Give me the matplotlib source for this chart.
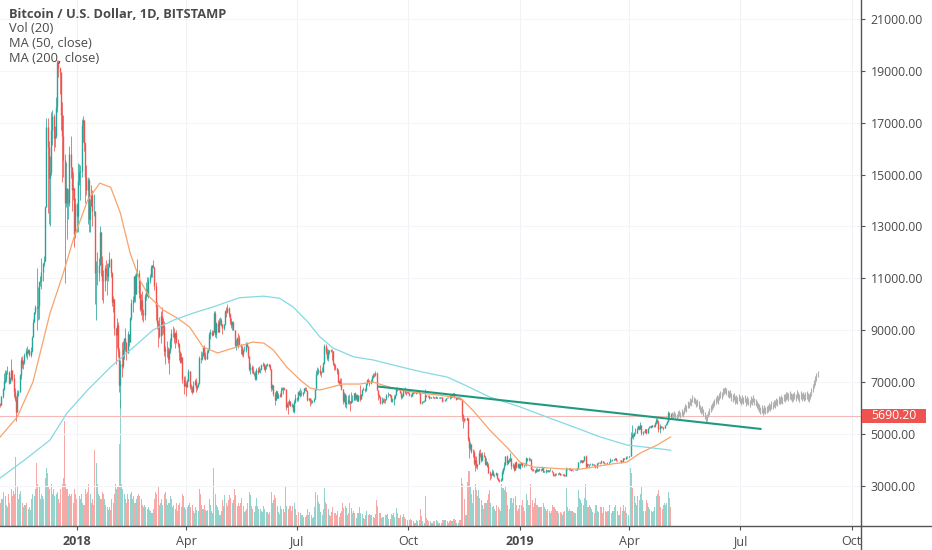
import numpy as np
import pandas as pd
import matplotlib
matplotlib.use('Agg')
import matplotlib.pyplot as plt
import matplotlib.dates as mdates
import matplotlib.transforms as mtrans
from matplotlib.lines import Line2D
from matplotlib.patches import Rectangle

plt.rcParams['font.family'] = ['Open Sans', 'DejaVu Sans']

# ---- daily BTC/USD (Bitstamp), 2017-10-30 .. 2019-05-05 ----
first_open = 6150
close_px = [
    6130, 6450,
    6740, 7030, 7160, 7380, 7390, 6960, 7100, 7450, 7140, 6600, 6330, 5860, 6530, 6600, 7280, 7840, 7700, 7780, 8040, 8200, 8100, 8230, 8030, 8200, 8750, 9300, 9700, 9900, 9840, 9940,
    10860, 10900, 11230, 11580, 11660, 13750, 16850, 16050, 14850, 15100, 16700, 17250, 16400, 16500, 17600, 19350, 19100, 18950, 17300, 16500, 15560, 13900, 14500, 13900, 13900, 15800, 15300, 14400, 14500, 12700, 13880,
    13400, 14750, 15100, 15150, 16900, 17100, 16200, 14900, 14400, 14800, 13300, 13800, 14200, 13600, 13600, 11200, 11200, 11200, 11500, 12800, 11600, 10900, 10900, 11400, 11200, 11100, 11450, 11750, 11200, 10100, 10200,
    9100, 8830, 9200, 8200, 6900, 7700, 7600, 8260, 8680, 8550, 8100, 8870, 8530, 9460, 10030, 10170, 11090, 10400, 11150, 11220, 10450, 9830, 10160, 9680, 9590, 10310, 10570, 10330,
    10920, 11030, 11440, 11500, 11450, 10700, 9900, 9290, 9200, 8770, 9530, 9130, 9150, 8200, 8260, 8270, 7870, 8200, 8600, 8900, 8900, 8710, 8900, 8540, 8450, 8140, 7790, 7950, 7100, 6850, 6930,
    6820, 7050, 7420, 6800, 6780, 6620, 6900, 7020, 6770, 6840, 6950, 7920, 7890, 8010, 8360, 8050, 7890, 8170, 8280, 8860, 8920, 8800, 8940, 9650, 8870, 9280, 8940, 9340, 9400, 9240,
    9070, 9220, 9740, 9700, 9850, 9630, 9370, 9190, 9310, 9010, 8420, 8470, 8700, 8680, 8480, 8350, 8070, 8240, 8240, 8520, 8390, 7990, 7500, 7580, 7470, 7340, 7360, 7110, 7460, 7400, 7490,
    7520, 7640, 7710, 7490, 7620, 7650, 7680, 7620, 7500, 6770, 6880, 6550, 6310, 6640, 6400, 6490, 6450, 6710, 6740, 6760, 6720, 6050, 6160, 6150, 6250, 6080, 6130, 5880, 6210, 6390,
    6350, 6620, 6500, 6590, 6530, 6600, 6760, 6710, 6660, 6310, 6380, 6240, 6220, 6250, 6350, 6730, 7320, 7380, 7470, 7330, 7400, 7400, 7720, 8400, 8170, 7930, 8180, 8220, 8210, 8180, 7730,
    7600, 7540, 7410, 7010, 7030, 6940, 6720, 6280, 6540, 6150, 6240, 6320, 6260, 6190, 6270, 6310, 6580, 6390, 6490, 6270, 6480, 6360, 6520, 6700, 6720, 6710, 6910, 7080, 7030, 6980, 7030,
    7190, 7270, 7260, 7360, 6700, 6500, 6410, 6190, 6240, 6320, 6290, 6330, 6490, 6490, 6520, 6500, 6250, 6350, 6390, 6490, 6760, 6710, 6700, 6590, 6430, 6450, 6680, 6630, 6610, 6620,
    6590, 6510, 6470, 6560, 6620, 6580, 6600, 6660, 6640, 6560, 6180, 6240, 6250, 6260, 6480, 6470, 6460, 6390, 6390, 6410, 6420, 6400, 6390, 6420, 6390, 6400, 6410, 6410, 6270, 6280, 6320,
    6380, 6400, 6380, 6480, 6440, 6480, 6560, 6420, 6340, 6390, 6390, 6380, 6330, 5720, 5600, 5550, 5550, 5610, 4820, 4450, 4600, 4300, 4300, 3880, 4000, 3760, 3830, 4270, 4250, 3990,
    4190, 4130, 3850, 3930, 3750, 3500, 3400, 3410, 3540, 3400, 3420, 3480, 3290, 3230, 3200, 3230, 3520, 3670, 3800, 4130, 3870, 4000, 3960, 4050, 3760, 3800, 3600, 3900, 3720, 3850, 3690,
    3830, 3890, 3780, 3810, 3790, 4060, 4000, 4010, 4030, 3650, 3640, 3610, 3510, 3660, 3580, 3610, 3650, 3600, 3710, 3530, 3550, 3590, 3560, 3590, 3580, 3580, 3540, 3430, 3400, 3460, 3440,
    3470, 3500, 3420, 3430, 3450, 3390, 3370, 3650, 3660, 3690, 3620, 3630, 3610, 3590, 3600, 3620, 3680, 3900, 3930, 3980, 3920, 3980, 4130, 3730, 3820, 3800, 3810, 3810,
    3830, 3830, 3800, 3710, 3860, 3870, 3880, 3860, 3940, 3920, 3860, 3880, 3860, 3870, 3910, 4010, 3980, 3980, 4020, 4050, 3980, 3990, 4000, 3990, 3920, 3940, 4060, 4040, 4110, 4110, 4110,
    4150, 4890, 4960, 4910, 5040, 5050, 5200, 5290, 5200, 5330, 5050, 5080, 5080, 5170, 5050, 5230, 5250, 5290, 5280, 5330, 5300, 5400, 5540, 5440, 5170, 5290, 5280, 5270, 5230, 5340,
    5390, 5480, 5790, 5780, 5690.2,
]
high_px = [
    6200, 6470,
    6760, 7330, 7450, 7480, 7600, 7420, 7200, 7880, 7450, 7300, 6780, 6450, 6700, 6680, 7320, 7950, 8020, 7850, 8100, 8300, 8370, 8290, 8280, 8340, 8780, 9430, 9700, 9980, 11400, 10650,
    10900, 11100, 11800, 11600, 11850, 13800, 17170, 17200, 16300, 15700, 17400, 17500, 17350, 16880, 17990, 19400, 19400, 19150, 18950, 17800, 17300, 15800, 15500, 14500, 14450, 16100, 16500, 15300, 15100, 14500, 14100,
    13900, 15450, 15400, 15350, 17150, 17250, 17100, 16250, 15350, 14900, 14850, 14050, 14600, 14400, 14250, 13600, 11650, 12000, 11800, 13000, 12800, 11850, 11300, 11500, 11700, 11600, 11600, 12000, 11800, 11250, 10300,
    10200, 9100, 9450, 9300, 8300, 7850, 8550, 8600, 8700, 9100, 8550, 8950, 8870, 9500, 10200, 10300, 11100, 11150, 11250, 11750, 11300, 10900, 10400, 10500, 9800, 10400, 10850, 11050,
    11050, 11170, 11500, 11520, 11700, 11450, 10850, 10100, 9400, 9500, 9730, 9900, 9450, 9350, 8400, 8600, 8340, 8300, 8700, 9050, 9150, 9100, 8920, 9000, 8650, 8500, 8200, 8100, 7950, 7250, 7220,
    7050, 7120, 7500, 7420, 6920, 6850, 7050, 7100, 7170, 6900, 6970, 8000, 8200, 8170, 8400, 8420, 8170, 8220, 8300, 8930, 9030, 9000, 9000, 9730, 9750, 9300, 9380, 9450, 9520, 9450,
    9250, 9250, 9780, 9880, 9990, 9900, 9650, 9450, 9360, 9370, 9020, 8640, 8750, 8890, 8830, 8480, 8370, 8270, 8390, 8560, 8550, 8400, 8000, 7720, 7650, 7600, 7380, 7440, 7530, 7560, 7620,
    7550, 7690, 7760, 7750, 7660, 7690, 7750, 7710, 7690, 7500, 6920, 6890, 6620, 6700, 6650, 6560, 6590, 6790, 6820, 6800, 6790, 6720, 6240, 6250, 6340, 6280, 6180, 6170, 6290, 6520,
    6420, 6640, 6680, 6780, 6700, 6630, 6780, 6810, 6800, 6690, 6400, 6390, 6330, 6320, 6380, 6740, 7460, 7580, 7550, 7660, 7430, 7560, 7760, 8480, 8480, 8300, 8260, 8240, 8290, 8270, 8180,
    7750, 7700, 7540, 7490, 7080, 7150, 7150, 6730, 6630, 6560, 6480, 6480, 6540, 6260, 6620, 6480, 6580, 6600, 6540, 6520, 6500, 6880, 6550, 6720, 6800, 6760, 6950, 7130, 7140, 7060, 7100,
    7260, 7340, 7340, 7420, 7390, 6710, 6530, 6470, 6410, 6380, 6400, 6350, 6540, 6600, 6550, 6530, 6510, 6390, 6500, 6530, 6820, 6820, 6780, 6720, 6600, 6530, 6720, 6800, 6640, 6640,
    6650, 6600, 6520, 6600, 6630, 6620, 6620, 6700, 6670, 6640, 6560, 6280, 6280, 6320, 6740, 6500, 6480, 6480, 6420, 6420, 6460, 6430, 6410, 6460, 6420, 6420, 6430, 6420, 6410, 6300, 6340,
    6400, 6420, 6410, 6500, 6490, 6490, 6590, 6560, 6420, 6410, 6420, 6420, 6390, 6350, 5750, 5600, 5560, 5640, 5620, 4870, 4700, 4620, 4400, 4360, 4150, 4160, 3850, 4380, 4430, 4280,
    4300, 4300, 4140, 4070, 3940, 3880, 3560, 3500, 3640, 3590, 3450, 3510, 3480, 3300, 3260, 3280, 3620, 3680, 3910, 4160, 4200, 4010, 4050, 4250, 4050, 3870, 3820, 3920, 3950, 3870, 3860,
    3860, 3920, 3890, 3830, 3860, 4090, 4070, 4110, 4060, 4030, 3690, 3640, 3620, 3700, 3680, 3660, 3670, 3660, 3770, 3710, 3580, 3630, 3610, 3600, 3600, 3670, 3590, 3540, 3440, 3480, 3480,
    3490, 3520, 3500, 3440, 3460, 3460, 3410, 3730, 3680, 3700, 3690, 3660, 3660, 3620, 3650, 3660, 3700, 3930, 4000, 3990, 4000, 3990, 4150, 4200, 3860, 3830, 3830, 3880,
    3860, 3840, 3840, 3810, 3880, 3900, 3900, 3920, 3980, 3940, 3930, 3890, 3890, 3900, 3930, 4050, 4010, 4030, 4030, 4060, 4070, 4000, 4010, 4010, 3990, 3950, 4070, 4060, 4130, 4140, 4120,
    4160, 5080, 5350, 5040, 5070, 5220, 5250, 5340, 5290, 5470, 5340, 5110, 5120, 5180, 5190, 5240, 5290, 5320, 5350, 5350, 5340, 5440, 5630, 5630, 5530, 5380, 5310, 5300, 5280, 5350,
    5410, 5500, 5900, 5840, 5800,
]
low_px = [
    6030, 6100,
    6380, 6700, 6950, 7000, 7300, 6930, 6950, 7080, 7050, 6430, 6250, 5500, 5840, 6450, 6600, 7120, 7540, 7500, 7680, 7960, 7870, 8100, 8000, 7980, 8160, 8730, 9300, 9640, 9000, 9400,
    9420, 10700, 10600, 10900, 11480, 11650, 13750, 13500, 13100, 13020, 15000, 16150, 15920, 16050, 16400, 17400, 18750, 18100, 16700, 14700, 14900, 10800, 13750, 12500, 13300, 13800, 14850, 13600, 14000, 12200, 12550,
    12800, 12800, 14600, 14000, 14900, 16250, 15900, 13900, 14200, 13100, 12800, 12800, 13800, 13000, 13400, 10000, 9400, 10750, 10900, 11500, 11100, 10150, 10050, 10500, 10950, 10350, 10900, 11450, 11050, 9950, 9700,
    8800, 7700, 8300, 7950, 6600, 6000, 7200, 7550, 7900, 8200, 7850, 8100, 8400, 8530, 9400, 9700, 10100, 10100, 10400, 11100, 10250, 9750, 9600, 9400, 9300, 9400, 10150, 10300,
    10250, 10800, 11030, 11050, 11400, 10550, 9400, 9050, 8350, 8700, 8500, 8800, 8850, 8000, 7700, 7950, 7750, 7300, 8100, 8300, 8750, 8500, 8300, 8500, 8350, 7850, 7750, 7750, 6950, 6550, 6850,
    6450, 6800, 7050, 6720, 6600, 6520, 6620, 6900, 6630, 6700, 6820, 6930, 7750, 7830, 8000, 7900, 7830, 7880, 8100, 8250, 8650, 8760, 8800, 8920, 8750, 8700, 8920, 8920, 9200, 9150,
    8850, 9000, 9200, 9500, 9680, 9500, 9230, 9100, 9000, 8990, 8350, 8220, 8370, 8330, 8430, 8080, 8000, 7960, 8180, 8150, 8350, 7940, 7430, 7290, 7350, 7320, 7240, 7080, 7060, 7300, 7380,
    7360, 7480, 7620, 7460, 7390, 7500, 7630, 7560, 7470, 6650, 6680, 6470, 6120, 6300, 6380, 6370, 6440, 6420, 6680, 6550, 6700, 5930, 6040, 5760, 6100, 6060, 6020, 5850, 5800, 6200,
    6280, 6260, 6480, 6430, 6450, 6450, 6560, 6700, 6640, 6280, 6290, 6070, 6140, 6200, 6240, 6340, 6690, 7260, 7290, 7280, 7210, 7380, 7390, 7700, 8070, 7860, 7800, 8090, 8160, 7850, 7660,
    7460, 7450, 7290, 6950, 6890, 6850, 6680, 6140, 6220, 6040, 6010, 6150, 6150, 5880, 6180, 6230, 6290, 6300, 6300, 6250, 6270, 6280, 6350, 6470, 6690, 6600, 6670, 6880, 7000, 6830, 6920,
    7010, 7150, 7200, 7230, 6680, 6320, 6390, 6150, 6170, 6230, 6190, 6200, 6320, 6410, 6480, 6440, 6230, 6240, 6120, 6360, 6480, 6640, 6680, 6560, 6330, 6390, 6450, 6550, 6510, 6560,
    6560, 6470, 6420, 6460, 6540, 6560, 6540, 6590, 6610, 6520, 6150, 6170, 6230, 6240, 6260, 6440, 6440, 6350, 6380, 6380, 6400, 6390, 6370, 6390, 6380, 6380, 6400, 6390, 6240, 6260, 6270,
    6320, 6370, 6370, 6360, 6400, 6410, 6480, 6400, 6320, 6340, 6350, 6350, 6310, 5500, 5220, 5470, 5520, 5540, 4730, 4050, 4380, 4260, 4100, 3800, 3550, 3680, 3650, 3830, 4100, 3930,
    3960, 4100, 3800, 3780, 3710, 3480, 3230, 3300, 3400, 3380, 3340, 3400, 3260, 3180, 3150, 3190, 3230, 3460, 3620, 3780, 3790, 3850, 3920, 3970, 3660, 3700, 3570, 3600, 3700, 3700, 3670,
    3650, 3790, 3730, 3740, 3780, 3760, 3970, 3960, 3990, 3600, 3570, 3570, 3480, 3510, 3550, 3570, 3560, 3580, 3600, 3510, 3520, 3490, 3540, 3540, 3540, 3560, 3510, 3380, 3370, 3390, 3420,
    3430, 3450, 3400, 3400, 3420, 3380, 3360, 3360, 3620, 3620, 3600, 3580, 3590, 3570, 3590, 3600, 3610, 3670, 3870, 3900, 3890, 3920, 3970, 3690, 3720, 3780, 3680, 3790,
    3810, 3800, 3780, 3690, 3700, 3840, 3860, 3830, 3860, 3890, 3840, 3830, 3850, 3820, 3860, 3910, 3960, 3960, 3980, 4000, 3950, 3970, 3980, 3970, 3890, 3910, 3930, 4020, 4030, 4080, 4090,
    4090, 4150, 4830, 4800, 4900, 4980, 5050, 5180, 5160, 5190, 4950, 4940, 5060, 5050, 4990, 5040, 5220, 5250, 5240, 5270, 5260, 5280, 5390, 5420, 5080, 5050, 5240, 5230, 5150, 5220,
    5330, 5380, 5470, 5550, 5620,
]
volume_k = [
    22, 25,
    25, 32, 28, 20, 18, 30, 22, 35, 28, 33, 30, 65, 38, 25, 30, 33, 22, 18, 20, 20, 22, 16, 18, 15, 25, 30, 28, 35, 60, 40,
    38, 25, 30, 28, 25, 45, 55, 50, 38, 35, 40, 30, 35, 28, 30, 32, 25, 22, 35, 40, 45, 100, 40, 35, 28, 30, 28, 30, 22, 35, 30,
    25, 30, 28, 25, 30, 22, 20, 35, 30, 32, 40, 30, 22, 25, 20, 72, 60, 40, 30, 28, 25, 32, 30, 25, 20, 18, 15, 18, 15, 25, 22,
    30, 40, 35, 38, 78, 120, 40, 35, 30, 25, 22, 30, 25, 30, 32, 25, 28, 22, 25, 28, 30, 28, 25, 20, 18, 20, 18, 16,
    18, 15, 14, 12, 16, 25, 32, 30, 38, 20, 22, 25, 20, 30, 32, 25, 20, 22, 28, 25, 18, 20, 16, 22, 14, 20, 22, 18, 30, 28, 18,
    16, 18, 20, 22, 18, 20, 14, 12, 18, 15, 14, 35, 30, 20, 16, 20, 15, 14, 15, 25, 20, 14, 12, 55, 30, 20, 18, 15, 10, 14,
    24, 19, 29, 22, 19, 24, 29, 26, 22, 24, 35, 29, 19, 22, 19, 22, 26, 19, 13, 14, 16, 22, 32, 29, 19, 16, 13, 19, 26, 19, 16,
    16, 14, 13, 19, 16, 13, 13, 11, 13, 32, 22, 24, 29, 26, 19, 13, 11, 19, 16, 16, 13, 38, 19, 16, 19, 19, 14, 19, 22, 16,
    10, 16, 13, 12, 10, 10, 8, 8, 10, 16, 10, 13, 10, 7, 8, 18, 32, 29, 23, 21, 13, 10, 16, 36, 23, 21, 16, 10, 9, 13, 18,
    12, 12, 10, 14, 8, 12, 14, 22, 17, 19, 17, 10, 12, 22, 17, 12, 14, 12, 7, 12, 12, 18, 12, 11, 7, 6, 10, 14, 10, 11, 10,
    10, 8, 7, 11, 24, 19, 12, 12, 7, 8, 8, 10, 10, 11, 6, 6, 11, 10, 12, 8, 17, 12, 7, 7, 10, 8, 11, 8, 6, 5,
    5, 5, 6, 5, 4, 3, 3, 5, 4, 5, 16, 9, 4, 3, 28, 7, 5, 4, 4, 3, 3, 4, 4, 5, 4, 3, 3, 3, 5, 5, 5,
    5, 4, 3, 4, 5, 4, 6, 6, 5, 3, 3, 5, 5, 45, 40, 25, 10, 10, 42, 52, 38, 30, 22, 34, 40, 34, 28, 34, 26, 24,
    20, 16, 22, 22, 24, 30, 34, 22, 18, 19, 16, 14, 20, 18, 16, 14, 40, 36, 34, 38, 32, 20, 16, 26, 26, 22, 26, 28, 20, 14, 16,
    20, 20, 24, 18, 14, 30, 24, 20, 20, 40, 24, 18, 22, 26, 20, 18, 18, 18, 18, 22, 18, 16, 14, 16, 14, 12, 14, 20, 18, 16, 14,
    14, 12, 13, 12, 10, 13, 14, 36, 18, 14, 16, 14, 14, 13, 12, 12, 18, 34, 26, 24, 22, 20, 26, 40, 24, 18, 20, 18,
    16, 13, 12, 20, 20, 14, 13, 18, 18, 12, 18, 14, 13, 14, 14, 20, 12, 14, 14, 18, 20, 14, 10, 10, 18, 14, 20, 14, 18, 12, 10,
    16, 55, 50, 36, 28, 22, 20, 28, 24, 30, 38, 24, 14, 14, 24, 22, 18, 16, 14, 13, 14, 18, 28, 30, 34, 28, 18, 16, 20, 22,
    20, 22, 32, 26, 18,
]

# moving averages as drawn on the chart
ma50_dates = ['2017-10-30', '2017-11-13', '2017-11-26', '2017-12-10', '2017-12-21', '2017-12-29',
              '2018-01-10', '2018-01-20', '2018-01-29', '2018-02-06', '2018-02-14', '2018-02-22',
              '2018-03-02', '2018-03-13', '2018-03-25', '2018-04-04', '2018-04-15', '2018-04-27',
              '2018-05-10', '2018-05-26', '2018-06-04', '2018-06-12', '2018-06-23', '2018-07-04',
              '2018-07-12', '2018-07-20', '2018-07-31', '2018-08-08', '2018-08-22', '2018-09-02',
              '2018-09-10', '2018-09-24', '2018-10-11', '2018-10-25', '2018-11-07', '2018-11-13',
              '2018-11-23', '2018-12-07', '2018-12-21', '2019-01-01', '2019-01-12', '2019-01-26',
              '2019-02-09', '2019-02-20', '2019-03-02', '2019-03-18', '2019-03-30', '2019-04-10',
              '2019-04-24', '2019-05-05']
ma50_vals = [4880, 5650, 7000, 9650, 11200, 12470,
             14010, 14670, 14510, 13510, 11970, 10930,
             10280, 9780, 9460, 9120, 8350, 8120,
             8310, 8540, 8500, 8230, 7570, 7080,
             6770, 6690, 6820, 6920, 6920, 7000,
             6880, 6690, 6570, 6500, 6420, 6380,
             5920, 5150, 4490, 3910, 3720, 3680,
             3640, 3640, 3720, 3840, 3910, 4260,
             4570, 4880]
ma200_dates = ['2017-10-30', '2017-11-19', '2017-12-10', '2017-12-24', '2018-01-10', '2018-01-29',
               '2018-02-17', '2018-03-05', '2018-03-22', '2018-04-07', '2018-04-23', '2018-05-15',
               '2018-06-04', '2018-06-17', '2018-06-28', '2018-07-10', '2018-07-20', '2018-07-31',
               '2018-08-17', '2018-09-02', '2018-09-19', '2018-10-11', '2018-11-02', '2018-11-18',
               '2018-12-07', '2019-01-01', '2019-01-23', '2019-02-14', '2019-03-08', '2019-03-30',
               '2019-04-21', '2019-05-05']
ma200_vals = [3300, 3990, 4760, 5800, 6690, 7580,
              8350, 9010, 9390, 9660, 9890, 10250,
              10310, 10230, 9900, 9330, 8750, 8310,
              7970, 7850, 7650, 7400, 7190, 6850,
              6420, 6040, 5650, 5270, 4880, 4570,
              4450, 4370]

# projected bars pattern (HL bars), from 2019-05-06
proj_high = [5850, 5800, 5900, 5820, 5780, 5880, 5920, 5850, 5960, 5900,
             6050, 6150, 6120, 6280, 6230, 6380, 6340, 6480, 6430, 6400,
             6300, 6330, 6250, 6120, 6050, 6080, 5950, 5850, 5720, 5750,
             5900, 6000, 6120, 6200, 6260, 6350, 6420, 6500, 6450, 6580,
             6640, 6620, 6750, 6780, 6820, 6760, 6700, 6650, 6700, 6560,
             6520, 6580, 6450, 6480, 6420, 6550, 6460, 6380, 6480, 6420,
             6480, 6370, 6450, 6400, 6320, 6450, 6380, 6500, 6400, 6340,
             6280, 6200, 6140, 6040, 6100, 5990, 6100, 6020, 6060, 6120,
             6200, 6140, 6250, 6220, 6320, 6300, 6390, 6340, 6450, 6420,
             6500, 6440, 6550, 6520, 6600, 6630, 6560, 6650, 6590, 6520,
             6560, 6630, 6540, 6680, 6600, 6520, 6650, 6560, 6620, 6540,
             6600, 6640, 6560, 6520, 6620, 6780, 6920, 7080, 7220, 7350, 7420]
proj_low = [5600, 5580, 5640, 5590, 5560, 5620, 5680, 5620, 5700, 5650,
            5760, 5900, 5860, 6000, 5980, 6100, 6080, 6220, 6180, 6150,
            6020, 6080, 5950, 5850, 5760, 5820, 5680, 5560, 5450, 5500,
            5640, 5720, 5850, 5920, 5980, 6060, 6150, 6220, 6170, 6300,
            6370, 6340, 6460, 6520, 6560, 6480, 6420, 6380, 6430, 6280,
            6240, 6300, 6170, 6200, 6150, 6260, 6180, 6120, 6200, 6140,
            6210, 6080, 6170, 6120, 6040, 6160, 6100, 6220, 6130, 6060,
            6010, 5920, 5860, 5770, 5810, 5720, 5800, 5750, 5790, 5840,
            5910, 5870, 5960, 5940, 6040, 6010, 6110, 6070, 6160, 6140,
            6200, 6160, 6260, 6240, 6300, 6340, 6280, 6350, 6310, 6240,
            6280, 6340, 6260, 6380, 6310, 6240, 6360, 6280, 6330, 6260,
            6310, 6360, 6280, 6240, 6340, 6450, 6600, 6750, 6900, 7050, 7200]

trend_dates = ['2018-09-07', '2019-07-18']
trend_vals = [6820, 5190]
last_price = 5690.2

price_ticks = list(range(3000, 22000, 2000))
date_ticks = ['2018-01-01', '2018-04-01', '2018-07-01', '2018-10-01',
              '2019-01-01', '2019-04-01', '2019-07-01', '2019-10-01']
date_labels = ['2018', 'Apr', 'Jul', 'Oct', '2019', 'Apr', 'Jul', 'Oct']

# ---- derived ----
dates = pd.date_range('2017-10-30', periods=len(close_px), freq='D')
x = mdates.date2num(dates)
c = np.array(close_px, float)
o = np.r_[first_open, c[:-1]]
h = np.maximum(np.array(high_px, float), np.maximum(o, c))
l = np.minimum(np.array(low_px, float), np.minimum(o, c))
up = c >= o

UP, DN = '#26a69a', '#ef5350'
VUP, VDN = '#93d3cc', '#f7a9a8'
TXT = '#4a4a4a'

W, H = 932, 550
fig = plt.figure(figsize=(W / 100, H / 100), dpi=100)
fig.patch.set_facecolor('white')
ax_w, ax_h = 860.7, 525.7
rect = [0, (H - ax_h) / H, ax_w / W, ax_h / H]
axv = fig.add_axes(rect, label='volume')
ax = fig.add_axes(rect, label='price')
ax.set_facecolor('none')

jan1 = mdates.date2num(pd.Timestamp('2018-01-01'))
ppd = 443.3 / 365.0  # pixels per day
xlim = (jan1 - 76.7 / ppd, jan1 + (ax_w - 76.7) / ppd)

# volume pane
axv.bar(x, volume_k, width=0.85, color=np.where(up, VUP, VDN), linewidth=0)
axv.set_xlim(xlim)
axv.set_ylim(0, 500)
axv.axis('off')

# grid
tick_x = mdates.date2num(pd.to_datetime(date_ticks))
for t in tick_x:
    ax.axvline(t, color='#f0f2f6', lw=0.8, zorder=0)
for p in price_ticks:
    ax.axhline(p, color='#f4f5f8', lw=0.8, zorder=0)

# last price line
ax.axhline(last_price, color='#f7b9b8', lw=0.8, zorder=1)

# candles
cols = np.where(up, UP, DN)
ax.vlines(x, l, h, colors=cols, lw=0.55, zorder=3)
ax.vlines(x, np.minimum(o, c), np.maximum(o, c), colors=cols, lw=1.0, zorder=3)

# moving averages
ax.plot(mdates.date2num(pd.to_datetime(ma50_dates)), ma50_vals, color='#f8a36b', lw=0.9, zorder=4)
ax.plot(mdates.date2num(pd.to_datetime(ma200_dates)), ma200_vals, color='#84d9e3', lw=0.9, zorder=4)

# projected bars
pdates = mdates.date2num(pd.date_range('2019-05-06', periods=len(proj_high), freq='D'))
ax.vlines(pdates, proj_low, proj_high, colors='#b0b0b0', lw=0.8, zorder=3)

# trend line
ax.plot(mdates.date2num(pd.to_datetime(trend_dates)), trend_vals, color='#1f9a7e', lw=1.5, zorder=5)

ax.set_xlim(xlim)
ax.set_ylim(1457, 21733)

for s in ['top', 'left']:
    ax.spines[s].set_visible(False)
for s in ['right', 'bottom']:
    ax.spines[s].set_color('#555555')
    ax.spines[s].set_linewidth(1.0)

ax.yaxis.tick_right()
ax.set_yticks(price_ticks)
ax.set_yticklabels(['%.2f' % p for p in price_ticks])
ax.tick_params(axis='y', length=3, width=0.8, color='#555555', labelcolor=TXT,
               labelsize=8.8, pad=4)
ax.set_xticks(tick_x)
ax.set_xticklabels(date_labels)
ax.tick_params(axis='x', length=3, width=0.8, color='#555555', labelcolor=TXT,
               labelsize=9, pad=4)
for lab in ax.get_xticklabels():
    if lab.get_text().isdigit():
        lab.set_fontweight('bold')

# axis extensions to figure edges
fig.add_artist(Line2D([ax_w / W, ax_w / W], [0, rect[1]], color='#555555', lw=1.0))
fig.add_artist(Line2D([ax_w / W, 1], [rect[1], rect[1]], color='#555555', lw=1.0))

# last price tag
bt = mtrans.blended_transform_factory(fig.transFigure, ax.transData)
ax.add_patch(Rectangle((861.5 / W, last_price - 270), 64 / W, 540, transform=bt,
                       facecolor=DN, edgecolor='none', clip_on=False, zorder=6))
ax.text(893.5 / W, last_price, '%.2f' % last_price, transform=bt, color='white',
        fontsize=8.8, ha='center', va='center', zorder=7, clip_on=False)

# legend texts
fig.text(9 / W, 1 - 14 / H, 'Bitcoin / U.S. Dollar, 1D, BITSTAMP', fontsize=9.3,
         fontweight='bold', color=TXT, va='center', ha='left')
for i, s in enumerate(['Vol (20)', 'MA (50, close)', 'MA (200, close)']):
    fig.text(9 / W, 1 - (29 + 14.6 * i) / H, s, fontsize=9.3, color=TXT, va='center', ha='left')

fig.savefig('out.png', dpi=100, facecolor='white')
